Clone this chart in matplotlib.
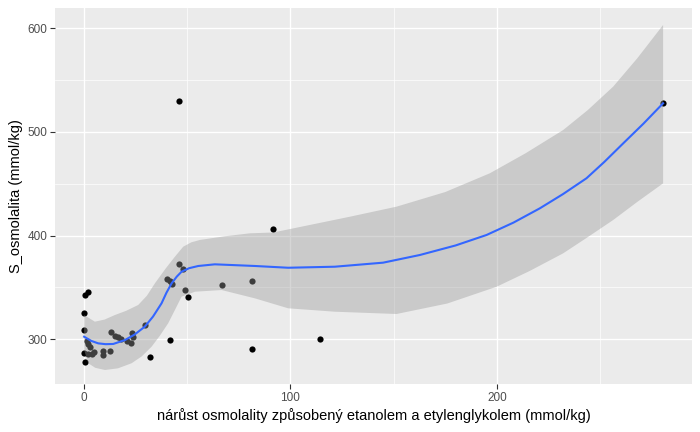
import matplotlib
matplotlib.use("Agg")
import matplotlib.pyplot as plt
import numpy as np

# scatter data (x: nárůst osmolality, y: S_osmolalita)
x_pts = [0.3, 2.1, 0.0, 0.0, 1.3, 1.9, 2.9, 0.0, 1.9, 3.9, 4.8, 0.5, 9.3, 9.3, 12.6,
         13.1, 15.0, 16.6, 17.9, 20.7, 23.1, 23.7, 22.8, 29.5, 32.0, 41.6, 40.3, 41.6,
         42.5, 46.2, 47.8, 49.1, 50.5, 46.2, 67.0, 81.2, 81.5, 91.7, 114.4, 280.5]
y_pts = [342.7, 346.0, 325.0, 308.6, 298.4, 295.2, 292.3, 287.2, 285.6, 285.6, 287.5,
         278.5, 288.8, 284.4, 288.8, 306.9, 303.3, 302.0, 300.3, 298.7, 305.8, 302.5,
         296.2, 313.8, 283.3, 299.0, 357.8, 356.2, 353.0, 372.3, 367.5, 347.3, 341.2,
         529.5, 352.0, 356.6, 291.0, 406.0, 300.7, 528.2]

# smoother (loess) line
fit_x = [0.1, 3.5, 6.9, 10.5, 14.2, 19.9, 24.5, 29.5, 33.5, 37.6, 40.0, 42.5, 45.0,
         47.3, 51.0, 55.4, 63.4, 82.8, 98.9, 121.5, 144.9, 162.7, 180.0, 195.0, 208.0,
         220.8, 232.0, 243.4, 252.0, 261.2, 271.0, 280.5]
fit_y = [302.5, 298.5, 296.1, 295.3, 295.5, 299.3, 304.5, 312.2, 322.0, 334.7, 345.0,
         354.0, 360.5, 365.2, 368.6, 370.7, 372.3, 370.7, 369.0, 370.0, 373.9, 381.3,
         390.5, 400.6, 412.5, 426.3, 440.0, 455.3, 471.0, 489.0, 508.0, 527.6]

# confidence band
up_x = [0.1, 5.3, 10.0, 15.0, 20.5, 26.3, 30.5, 34.4, 39.5, 44.1, 48.1, 52.0, 56.2,
        68.0, 80.4, 91.7, 110.0, 128.8, 151.4, 175.0, 196.6, 214.0, 232.1, 244.0,
        256.3, 268.0, 280.5]
up_y = [323.4, 317.0, 319.0, 323.4, 327.5, 333.1, 342.0, 354.0, 368.0, 379.7, 389.3,
        393.5, 395.8, 399.3, 402.2, 403.0, 410.5, 418.2, 427.9, 442.0, 460.1, 479.5,
        501.8, 521.0, 543.6, 571.0, 603.1]
lo_x = [0.1, 2.1, 5.5, 10.2, 16.5, 23.1, 28.0, 32.8, 36.8, 40.8, 44.0, 47.3, 53.8,
        66.7, 82.8, 98.9, 121.5, 151.4, 176.0, 199.9, 216.0, 232.1, 244.0, 256.3,
        268.0, 280.5]
lo_y = [289.7, 276.9, 272.5, 270.4, 272.0, 276.9, 283.5, 292.9, 303.5, 315.4, 328.0,
        341.1, 345.9, 347.5, 339.5, 329.9, 326.6, 324.4, 334.5, 350.7, 366.0, 382.9,
        398.5, 415.0, 432.5, 450.4]

x_ticks = [0, 100, 200]
y_ticks = [300, 400, 500, 600]
x_label = "nárůst osmolality způsobený etanolem a etylenglykolem (mmol/kg)"
y_label = "S_osmolalita (mmol/kg)"

plt.rcParams['font.family'] = ['Liberation Sans', 'DejaVu Sans']

fig = plt.figure(figsize=(7.0, 4.32), dpi=100)
ax = fig.add_axes([55 / 700, (432 - 384.4) / 432, (692 - 55) / 700, (384.4 - 8) / 432])
ax.set_facecolor('#EBEBEB')

ax.set_xlim(-14.0, 294.5)
ax.set_ylim(256.5, 619.5)

ax.set_xticks(x_ticks)
ax.set_yticks(y_ticks)
ax.set_xticks([50, 150, 250], minor=True)
ax.set_yticks([350, 450, 550], minor=True)
ax.grid(which='major', color='white', linewidth=1.0, zorder=0)
ax.grid(which='minor', color='white', linewidth=0.5, zorder=0)
ax.set_axisbelow(True)

for s in ax.spines.values():
    s.set_visible(False)

ax.tick_params(which='major', length=3.5, width=0.8, color='#333333',
               labelcolor='#4D4D4D', labelsize=8.5, pad=2)
ax.tick_params(which='minor', length=0)

ax.scatter(x_pts, y_pts, s=20, color='black', linewidths=0, zorder=2)

# band polygon
poly_x = list(up_x) + list(lo_x[::-1])
poly_y = list(up_y) + list(lo_y[::-1])
ax.fill(poly_x, poly_y, color='#999999', alpha=0.4, linewidth=0, zorder=3)
ax.plot(fit_x, fit_y, color='#3366FF', linewidth=1.5, zorder=4)

ax.set_xlabel(x_label, fontsize=10.5, color='black', labelpad=3)
ax.set_ylabel(y_label, fontsize=10.5, color='black', labelpad=3)

fig.savefig('out.png', dpi=100)
